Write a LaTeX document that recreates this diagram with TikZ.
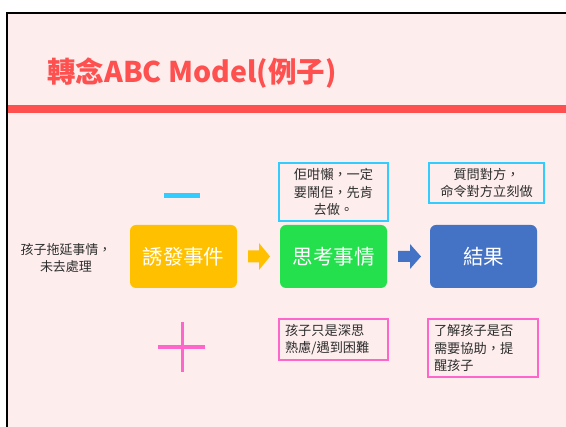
\documentclass[tikz,border=0pt]{standalone}
\usepackage{fontspec}
\setmainfont[Script=CJK, Language=Chinese Traditional]{Noto Sans CJK TC}
\definecolor{slidebg}{RGB}{253,237,237}
\definecolor{titlered}{RGB}{255,80,80}
\definecolor{yelc}{RGB}{255,192,0}
\definecolor{grnc}{RGB}{36,224,76}
\definecolor{bluc}{RGB}{68,114,196}
\definecolor{cyanc}{RGB}{51,204,255}
\definecolor{pinkc}{RGB}{255,102,204}
\definecolor{txtc}{RGB}{45,45,45}
\begin{document}
\begin{tikzpicture}[x=1pt,y=-1pt,
  bigbox/.style={rounded corners=6pt, minimum width=107pt, minimum height=63pt, inner sep=0pt,
    text=white, font=\fontsize{20.5}{24}\selectfont},
  notebox/.style={draw=#1, line width=1.6pt, inner sep=0pt, text=txtc,
    font=\fontsize{13.2}{17.5}\selectfont},
  plain/.style={text=txtc, font=\fontsize{13}{16.5}\selectfont, align=center}
]
\useasboundingbox (0,0) rectangle (566,427);
\fill[white] (0,0) rectangle (566,427);
\fill[slidebg] (6,12) rectangle (566,427);
\draw[black, line width=2pt] (7,427) -- (7,13) -- (566,13);
\node[anchor=west, text=titlered, font=\fontsize{28.5}{32}\selectfont\bfseries, inner sep=0pt] (title) at (47,73) {轉念ABC Model(例子)};
\fill[titlered] (8,105) rectangle (566,113);

% minus and plus
\fill[cyanc] (164,193) rectangle (200,198.5);
\fill[pinkc] (158,345.5) rectangle (205,349);
\fill[pinkc] (180.5,322) rectangle (184,372);

\node[plain] (cause) at (66,258) {孩子拖延事情，\\未去處理};

\node[bigbox, fill=yelc] (trig) at (183.5,256.5) {誘發事件};
\node[bigbox, fill=grnc] (think) at (333.5,256.5) {思考事情};
\node[bigbox, fill=bluc] (res) at (483.5,256.5) {結果};

% block arrows
\fill[yelc] (248,250.5) -- (259,250.5) -- (259,243) -- (270,256.5) -- (259,270) -- (259,262.5) -- (248,262.5) -- cycle;
\fill[bluc] (398,251) -- (410,251) -- (410,244) -- (421,256.5) -- (410,269) -- (410,262) -- (398,262) -- cycle;

\node[notebox=cyanc, minimum width=109pt, minimum height=58pt, align=center] (n1) at (333.5,192) {佢咁懶，一定\\要鬧佢，先肯\\去做。};
\node[notebox=cyanc, minimum width=115pt, minimum height=40pt, align=center] (n2) at (486.5,183) {質問對方，\\命令對方立刻做};
\node[notebox=pinkc, minimum width=109pt, minimum height=41pt, text width=97pt, align=left] (p1) at (333.5,339.5) {孩子只是深思\\熟慮/遇到困難};
\node[notebox=pinkc, minimum width=110pt, minimum height=58pt, text width=98pt, align=left] (p2) at (483,348) {了解孩子是否\\需要協助，提\\醒孩子};
\end{tikzpicture}
\end{document}
